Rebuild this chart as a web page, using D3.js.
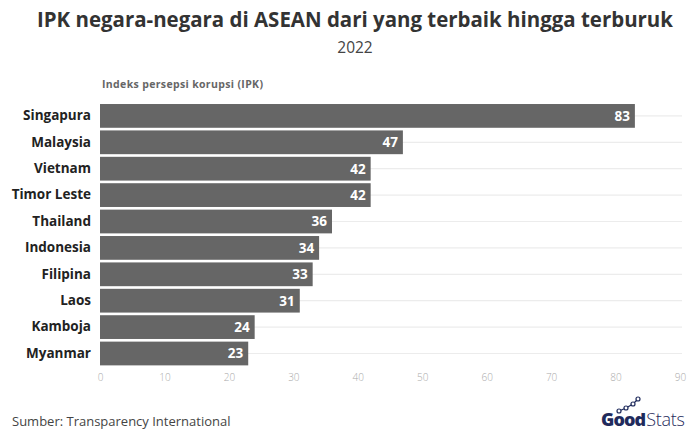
<!DOCTYPE html>
<html>
<head>
<meta charset="utf-8">
<script src="https://cdn.jsdelivr.net/npm/d3@7"></script>
<style>
  body { margin: 0; background: #fff; }
  svg { display: block; font-family: "Open Sans", "Noto Sans", sans-serif; }
</style>
</head>
<body>
<svg id="chart"></svg>
<script>
const countries = ["Singapura", "Malaysia", "Vietnam", "Timor Leste", "Thailand",
    "Indonesia", "Filipina", "Laos", "Kamboja", "Myanmar"]
const scores = [83, 47, 42, 42, 36, 34, 33, 31, 24, 23]
const xTicks = [0, 10, 20, 30, 40, 50, 60, 70, 80, 90]

const data = countries.map((name, i) => ({ name, score: scores[i] }))

const
    width = 699,
    height = 432,
    margin = { top: 102.7, right: 19, bottom: 65.3, left: 100 }

const svg = d3.select("#chart")
    .attr("width", width)
    .attr("height", height)
    .attr("viewBox", [0, 0, width, height])

const x = d3.scaleLinear()
    .domain([0, 90])
    .range([margin.left, width - margin.right])

const y = d3.scaleBand()
    .domain(countries)
    .range([margin.top, height - margin.bottom])
    .paddingInner(0.1)
    .paddingOuter(0.05)

// titles
svg.append("text")
    .attr("x", 355).attr("y", 27)
    .attr("text-anchor", "middle")
    .attr("font-size", 20.5)
    .attr("font-weight", 700)
    .attr("fill", "#333")
    .attr("textLength", 636)
    .attr("lengthAdjust", "spacingAndGlyphs")
    .text("IPK negara-negara di ASEAN dari yang terbaik hingga terburuk")

svg.append("text")
    .attr("x", 355).attr("y", 53)
    .attr("text-anchor", "middle")
    .attr("font-size", 15.5)
    .attr("fill", "#444")
    .text("2022")

svg.append("text")
    .attr("x", 102).attr("y", 88)
    .attr("font-size", 10.5)
    .attr("font-weight", 700)
    .attr("fill", "#666")
    .attr("textLength", 161)
    .text("Indeks persepsi korupsi (IPK)")

// row gridlines
svg.append("g")
    .selectAll("line")
    .data(data)
    .join("line")
    .attr("x1", x(0))
    .attr("x2", x(90) + 2)
    .attr("y1", d => y(d.name) + y.bandwidth() / 2)
    .attr("y2", d => y(d.name) + y.bandwidth() / 2)
    .attr("stroke", "#ececec")
    .attr("stroke-width", 1.2)

// bars
svg.append("g")
    .selectAll("rect")
    .data(data)
    .join("rect")
    .attr("x", x(0))
    .attr("y", d => y(d.name))
    .attr("width", d => x(d.score) - x(0))
    .attr("height", y.bandwidth())
    .attr("fill", "#666")

// value labels
svg.append("g")
    .selectAll("text")
    .data(data)
    .join("text")
    .attr("x", d => x(d.score) - 5)
    .attr("y", d => y(d.name) + y.bandwidth() / 2)
    .attr("dy", "0.36em")
    .attr("text-anchor", "end")
    .attr("font-size", 13.5)
    .attr("font-weight", 700)
    .attr("fill", "#fff")
    .text(d => d.score)

// category labels
const yAxis = g => g
    .attr("transform", `translate(${margin.left - 9},0)`)
    .call(d3.axisLeft(y).tickSize(0).tickPadding(0))
    .call(g => g.select(".domain").remove())
    .call(g => g.selectAll("text")
        .attr("font-family", "\"Open Sans\", sans-serif")
        .attr("font-size", 13.5)
        .attr("font-weight", 700)
        .attr("fill", "#222"))

svg.append("g").call(yAxis)

// x axis
const xAxis = g => g
    .attr("transform", `translate(0,${height - 58})`)
    .call(d3.axisBottom(x).tickValues(xTicks).tickSize(0).tickPadding(0))
    .call(g => g.select(".domain").remove())
    .call(g => g.selectAll("text")
        .attr("font-family", "\"Open Sans\", sans-serif")
        .attr("font-size", 10)
        .attr("font-weight", 300)
        .attr("fill", "#aaa"))

svg.append("g").call(xAxis)

// source
svg.append("text")
    .attr("x", 12).attr("y", 426)
    .attr("font-size", 13)
    .attr("fill", "#444")
    .text("Sumber: Transparency International")

// logo
const logo = svg.append("g").attr("transform", "translate(601,426)")
const good = logo.append("text")
    .attr("font-size", 18)
    .attr("font-weight", 800)
    .attr("fill", "#1f2b5c")
    .attr("letter-spacing", -0.9)
    .text("Good")
const gw = good.node().getComputedTextLength()
logo.append("text")
    .attr("x", gw + 1)
    .attr("font-size", 18)
    .attr("font-weight", 300)
    .attr("fill", "#1f2b5c")
    .attr("letter-spacing", -0.3)
    .text("Stats")
const iconPts = [[18, -15], [25, -18], [32, -22], [37, -27]]
logo.append("path")
    .attr("d", d3.line()(iconPts))
    .attr("fill", "none")
    .attr("stroke", "#1f2b5c")
    .attr("stroke-width", 1.3)
logo.selectAll("circle")
    .data(iconPts)
    .join("circle")
    .attr("cx", d => d[0])
    .attr("cy", d => d[1])
    .attr("r", 2)
    .attr("fill", "#fff")
    .attr("stroke", "#1f2b5c")
    .attr("stroke-width", 1.2)
</script>
</body>
</html>
